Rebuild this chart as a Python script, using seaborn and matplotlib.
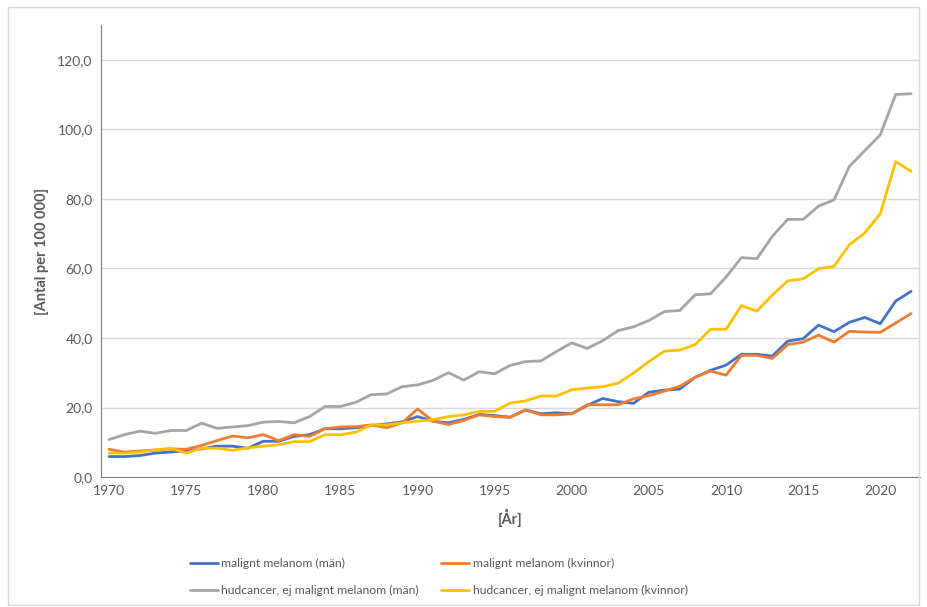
import pandas as pd
import seaborn as sns
import matplotlib.pyplot as plt
from matplotlib.ticker import FuncFormatter
from matplotlib.patches import Rectangle

# DATA
years = list(range(1970, 2023))

mm_man = [5.9, 5.9, 6.2, 6.9, 7.2, 7.6, 8.1, 8.9, 8.9, 8.3, 10.3, 10.3, 11.7, 12.2, 13.9,
          13.9, 14.2, 14.8, 15.3, 15.9, 17.4, 16.1, 15.6, 16.6, 18.0, 17.7, 17.2, 19.3, 18.2,
          18.5, 18.2, 20.6, 22.6, 21.7, 21.2, 24.4, 25.0, 25.3, 28.7, 30.7, 32.2, 35.3, 35.3,
          34.8, 39.1, 39.8, 43.7, 41.8, 44.5, 45.9, 44.1, 50.6, 53.4]
mm_kvinnor = [8.0, 7.2, 7.5, 7.8, 8.1, 8.0, 9.1, 10.5, 11.8, 11.3, 12.2, 10.5, 12.2, 11.7, 13.9,
              14.4, 14.5, 15.0, 14.2, 15.6, 19.6, 16.1, 15.1, 16.3, 17.9, 17.4, 17.2, 19.3, 17.9,
              17.9, 18.2, 20.8, 20.8, 20.8, 22.5, 23.4, 24.7, 26.1, 28.7, 30.5, 29.3, 35.0, 35.0,
              34.1, 38.1, 38.8, 40.8, 38.8, 41.9, 41.7, 41.6, 44.3, 47.0]
hud_man = [10.8, 12.2, 13.2, 12.6, 13.4, 13.4, 15.5, 14.0, 14.4, 14.8, 15.8, 16.0, 15.6, 17.4,
           20.3, 20.3, 21.5, 23.7, 23.9, 26.0, 26.5, 27.8, 30.0, 27.9, 30.3, 29.7, 32.1, 33.2,
           33.4, 36.1, 38.6, 37.0, 39.2, 42.1, 43.2, 45.0, 47.6, 47.9, 52.4, 52.7, 57.5, 63.1,
           62.8, 69.2, 74.1, 74.1, 77.9, 79.7, 89.3, 93.9, 98.4, 110.0, 110.2]
hud_kvinnor = [6.9, 6.9, 7.2, 7.8, 8.3, 6.9, 8.3, 8.3, 7.7, 8.4, 8.9, 9.3, 10.2, 10.2, 12.2,
               12.2, 12.9, 15.0, 15.0, 15.6, 16.1, 16.5, 17.4, 17.9, 18.9, 18.9, 21.3, 21.9,
               23.3, 23.3, 25.1, 25.6, 26.0, 27.0, 29.9, 33.2, 36.2, 36.5, 38.1, 42.5, 42.5,
               49.3, 47.7, 52.3, 56.4, 57.0, 59.9, 60.6, 66.8, 70.2, 75.7, 90.7, 87.9]

series_names = ['malignt melanom (män)', 'malignt melanom (kvinnor)',
                'hudcancer, ej malignt melanom (män)', 'hudcancer, ej malignt melanom (kvinnor)']
colors = ['#4472C4', '#ED7D31', '#A5A5A5', '#FFC000']

df = pd.concat([
    pd.DataFrame({'År': years, 'Värde': vals, 'Serie': name})
    for name, vals in zip(series_names, [mm_man, mm_kvinnor, hud_man, hud_kvinnor])
])

sns.set_style('white')
plt.rcParams['font.family'] = ['Lato', 'DejaVu Sans']

fig = plt.figure(figsize=(9.27, 6.07), dpi=100)
ax = fig.add_axes([0.109, 0.214, 0.883, 0.745])

sns.lineplot(data=df, x='År', y='Värde', hue='Serie', hue_order=series_names,
             palette=colors, linewidth=2, ax=ax, legend=False)

ax.set_xlim(1969.48, 2022.55)
ax.set_ylim(0, 130)
ax.set_yticks([0, 20, 40, 60, 80, 100, 120])
ax.set_xticks(range(1970, 2021, 5))
ax.yaxis.set_major_formatter(FuncFormatter(lambda v, p: f'{v:.1f}'.replace('.', ',')))
ax.grid(axis='y', color='#D9D9D9', linewidth=1)
ax.grid(axis='x', visible=False)
ax.tick_params(axis='both', length=0, labelsize=10, labelcolor='#595959', pad=6)

for s in ['top', 'right']:
    ax.spines[s].set_visible(False)
ax.spines['left'].set_color('#7F7F7F')
ax.spines['bottom'].set_color('#7F7F7F')

ax.set_xlabel('[År]', fontsize=10.5, fontweight='bold', color='#595959', labelpad=8)
ax.set_ylabel('[Antal per 100 000]', fontsize=10.5, fontweight='bold', color='#595959', labelpad=6)

# legend, column order so rows read blue/orange, gray/yellow
handles = [plt.Line2D([], [], color=c, linewidth=2) for c in colors]
order = [0, 2, 1, 3]
fig.legend([handles[i] for i in order], [series_names[i] for i in order],
           ncol=2, loc='lower left', bbox_to_anchor=(0.193, 0.0), frameon=False,
           fontsize=8.7, labelcolor='#595959', handlelength=2.3, handletextpad=0.3,
           columnspacing=1.85, labelspacing=1.3)

fig.patches.append(Rectangle((0.009, 0.003), 0.982, 0.985, transform=fig.transFigure,
                             fill=False, edgecolor='#D9D9D9', linewidth=1))

fig.savefig('out.png', dpi=100)
